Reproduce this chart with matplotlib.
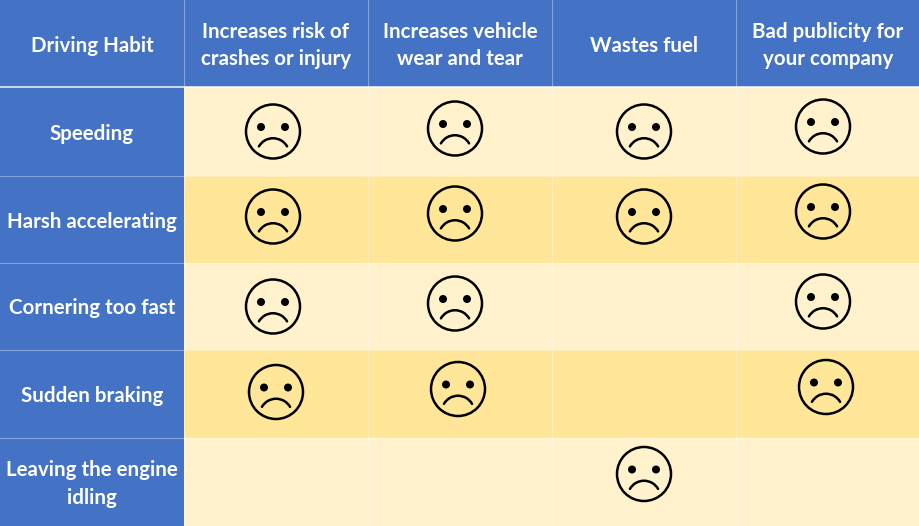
import matplotlib
matplotlib.use("Agg")
import matplotlib.pyplot as plt
from matplotlib.patches import Arc, Circle, Rectangle

plt.rcParams["font.family"] = ["Lato", "DejaVu Sans"]

headers = [
    "Driving Habit",
    "Increases risk of\ncrashes or injury",
    "Increases vehicle\nwear and tear",
    "Wastes fuel",
    "Bad publicity for\nyour company",
]
habits = [
    "Speeding",
    "Harsh accelerating",
    "Cornering too fast",
    "Sudden braking",
    "Leaving the engine\nidling",
]
# 1 = sad face in that cell
sad = [
    [1, 1, 1, 1],
    [1, 1, 1, 1],
    [1, 1, 0, 1],
    [1, 1, 0, 1],
    [0, 0, 1, 0],
]

BLUE = "#4472C4"
LIGHT = "#FFF2CC"
DARK = "#FFE699"

# layout in pixels
col_edges = [0, 184, 368, 552, 736, 920]
row_edges = [0, 87, 176, 263, 350, 438, 526]
# faces were pasted by hand, so they sit a bit off centre
col_dx = [-3, -5, 0, -5]
col_dy = [0, -3, 0, -5]
row_dx = [0, 0, 0, 3, 0]
row_dy = [0, -3, 0, -2, -8]


def draw_face(ax, x, y):
    ax.add_patch(Circle((x, y), 27, fc="none", ec="black", lw=1.8, zorder=3))
    for side in (-12, 12):
        ax.add_patch(Circle((x + side, y - 4.5), 4, fc="black", ec="none", zorder=3))
    ax.add_patch(Arc((x, y + 23), 32.5, 32.5, theta1=210, theta2=330,
                     ec="black", lw=1.8, capstyle="round", zorder=3))


fig = plt.figure(figsize=(9.2, 5.26), dpi=100)
ax = fig.add_axes([0, 0, 1, 1])
ax.set_xlim(0, 920)
ax.set_ylim(526, 0)
ax.axis("off")

# header row
for c, label in enumerate(headers):
    x0, x1 = col_edges[c], col_edges[c + 1]
    ax.add_patch(Rectangle((x0, 0), x1 - x0, row_edges[1], fc=BLUE, ec="none"))
    ax.text((x0 + x1) / 2, row_edges[1] / 2 + 2, label, color="white", fontsize=14.8,
            fontweight="bold", ha="center", va="center", linespacing=1.48, zorder=4)

# body rows
for r, habit in enumerate(habits):
    y0, y1 = row_edges[r + 1], row_edges[r + 2]
    ym = (y0 + y1) / 2
    ax.add_patch(Rectangle((0, y0), col_edges[1], y1 - y0, fc=BLUE, ec="none"))
    ax.text(col_edges[1] / 2, ym + 2, habit, color="white", fontsize=14.8,
            fontweight="bold", ha="center", va="center", linespacing=1.48, zorder=4)
    for c in range(4):
        x0, x1 = col_edges[c + 1], col_edges[c + 2]
        ax.add_patch(Rectangle((x0, y0), x1 - x0, y1 - y0,
                               fc=DARK if r % 2 else LIGHT, ec="none"))
        if sad[r][c]:
            draw_face(ax, (x0 + x1) / 2 + col_dx[c] + row_dx[r], ym + col_dy[c] + row_dy[r])

# grid lines
for x in col_edges[1:-1]:
    ax.axvline(x, color="white", lw=0.8, alpha=0.35, zorder=2)
for y in row_edges[2:-1]:
    ax.axhline(y, color="white", lw=0.8, alpha=0.35, zorder=2)
ax.axhline(row_edges[1], color="white", lw=1.2, alpha=0.85, zorder=2)

fig.savefig("out.png", dpi=100)
